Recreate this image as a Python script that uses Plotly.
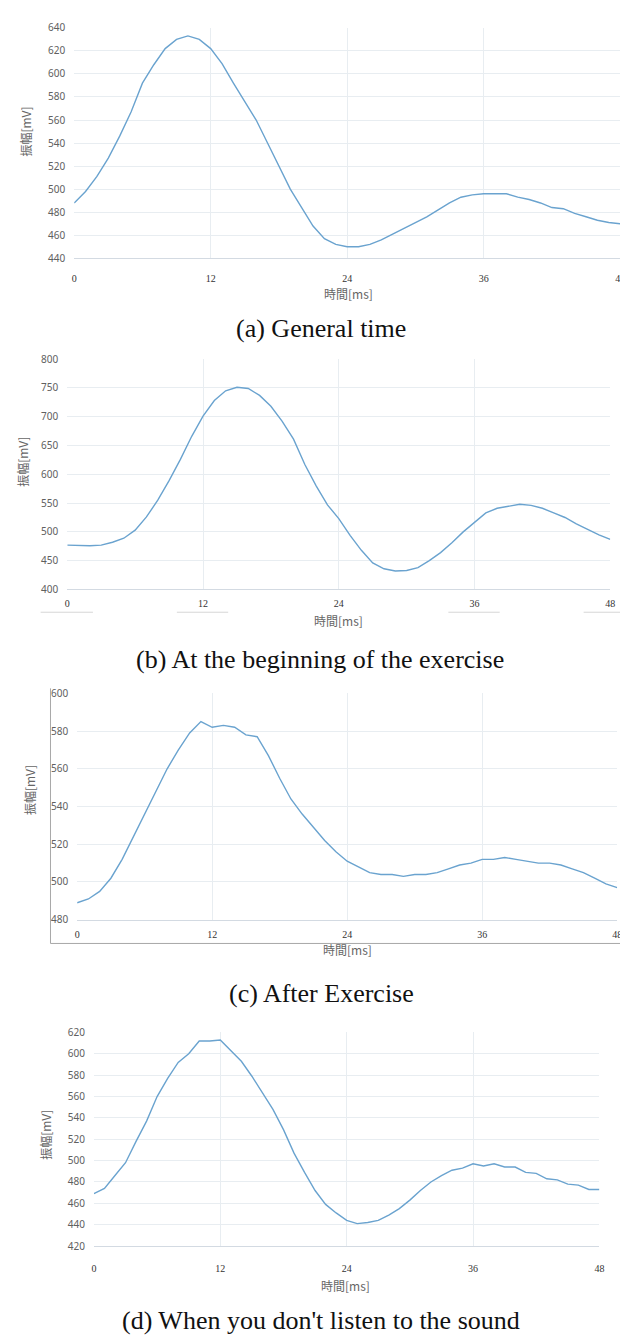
import plotly.graph_objects as go

W, H = 628, 1336

# ---------------- data ----------------
time_ms = list(range(0, 49))
tick_vals = [0, 12, 24, 36, 48]
tick_text = ["0", "12", "24", "36", "48"]

general_time = [488, 498, 511, 527, 546, 567, 592, 608, 622, 630, 633, 630, 622, 609, 592, 576,
                560, 540, 520, 500, 484, 468, 457, 452, 450, 450, 452, 456, 461, 466, 471, 476,
                482, 488, 493, 495, 496, 496, 496, 493, 491, 488, 484, 483, 479, 476, 473, 471, 470]

exercise_start = [477, 476, 476, 477, 482, 489, 503, 526, 555, 589, 626, 666, 701, 728, 745, 751,
                  749, 737, 718, 692, 661, 617, 580, 547, 523, 494, 468, 446, 436, 432, 433, 438,
                  450, 464, 481, 500, 516, 533, 541, 545, 548, 546, 541, 533, 525, 514, 504, 495, 487]

after_exercise = [489, 491, 495, 502, 512, 524, 536, 548, 560, 570, 579, 585, 582, 583, 582, 578,
                  577, 567, 555, 544, 536, 529, 522, 516, 511, 508, 505, 504, 504, 503, 504, 504,
                  505, 507, 509, 510, 512, 512, 513, 512, 511, 510, 510, 509, 507, 505, 502, 499, 497]

no_sound = [469, 474, 486, 498, 518, 537, 560, 577, 592, 600, 612, 612, 613, 603, 593, 579,
            564, 548, 529, 507, 489, 472, 459, 451, 444, 441, 442, 444, 449, 455, 463, 472,
            480, 486, 491, 493, 497, 495, 497, 494, 494, 489, 488, 483, 482, 478, 477, 473, 473]

captions = ["(a) General time", "(b) At the beginning of the exercise",
            "(c) After Exercise", "(d) When you don't listen to the sound"]
series = [general_time, exercise_start, after_exercise, no_sound]
y_ranges = [(440, 640), (400, 800), (480, 600), (420, 620)]
y_dticks = [20, 50, 20, 20]
x_title = "時間[ms]"
y_title = "振幅[mV]"

# ---------------- layout (pixels) ----------------
# plot boxes: (left, right, top, bottom)
boxes = [(64, 617, 12, 245), (57, 607, 347, 580), (67, 614, 685, 914), (84, 596, 1028, 1244)]
x_standoff = [11, 5, 5, 13]
xtitle_pos = [(342, 281), (332, 611), (341, 944), (339, 1284)]
ytitle_pos = [(15, 117), (12, 451), (18, 783), (35, 1132)]
caption_pos = [(314, 316), (313, 651), (314, 989), (314, 1319)]

def px(x):
    return x / W

def py(y):
    return 1 - y / H

LINE_COLOR = "#6aa3cf"
GRID = "#e8edf1"

fig = go.Figure()
layout = dict(width=W, height=H, margin=dict(l=0, r=0, t=0, b=0),
              paper_bgcolor="white", plot_bgcolor="white", showlegend=False)
annotations = []
shapes = []

for i, (vals, box, yr, dt) in enumerate(zip(series, boxes, y_ranges, y_dticks)):
    n = "" if i == 0 else str(i + 1)
    fig.add_trace(go.Scatter(x=time_ms, y=vals, mode="lines",
                             line=dict(color=LINE_COLOR, width=1.4),
                             xaxis="x" + n, yaxis="y" + n, hoverinfo="skip"))
    l, r, t, b = box
    layout["xaxis" + n] = dict(domain=[px(l), px(r)], anchor="y" + n, range=[0, 48],
                               tickmode="array", tickvals=tick_vals, ticktext=tick_text,
                               showgrid=True, gridcolor=GRID, gridwidth=1,
                               showline=True, linecolor="#d3dae2", linewidth=1,
                               zeroline=False, ticks="", ticklabelstandoff=x_standoff[i],
                               tickfont=dict(family="Liberation Serif", size=10, color="#333333"))
    layout["yaxis" + n] = dict(domain=[py(b), py(t)], anchor="x" + n, range=list(yr),
                               dtick=dt, tick0=yr[0],
                               showgrid=True, gridcolor=GRID, gridwidth=1,
                               showline=False, zeroline=False, ticks="", ticklabelstandoff=8,
                               tickfont=dict(family="Noto Sans", size=10, color="#606060"))
    xt = xtitle_pos[i]
    annotations.append(dict(text=x_title, x=px(xt[0]), y=py(xt[1]), xref="paper", yref="paper",
                            showarrow=False, xanchor="center", yanchor="middle",
                            font=dict(family="Noto Sans CJK JP", size=12, color="#666666")))
    yt = ytitle_pos[i]
    annotations.append(dict(text=y_title, x=px(yt[0]), y=py(yt[1]), xref="paper", yref="paper",
                            showarrow=False, xanchor="center", yanchor="middle", textangle=-90,
                            font=dict(family="Noto Sans CJK JP", size=12, color="#666666")))
    cp = caption_pos[i]
    annotations.append(dict(text=captions[i], x=px(cp[0]), y=py(cp[1]), xref="paper", yref="paper",
                            showarrow=False, xanchor="center", yanchor="middle",
                            font=dict(family="Liberation Serif", size=26, color="#111111")))

# scan frame remnants
def seg(x0, y0, x1, y1, color, width=1):
    shapes.append(dict(type="line", xref="paper", yref="paper",
                       x0=px(x0), y0=py(y0), x1=px(x1), y1=py(y1),
                       line=dict(color=color, width=width)))

for a, bb in [(30, 83), (168, 220), (443, 495), (580, 628)]:
    seg(a, 603, bb, 603, "#d6d6d6")
seg(626, 343, 626, 585, "#e4e4e4")
seg(40, 680, 40, 938, "#a8a8a8")
seg(40, 938, 623, 938, "#a8a8a8")

layout["annotations"] = annotations
layout["shapes"] = shapes
fig.update_layout(**layout)
fig.write_html("out.html")
